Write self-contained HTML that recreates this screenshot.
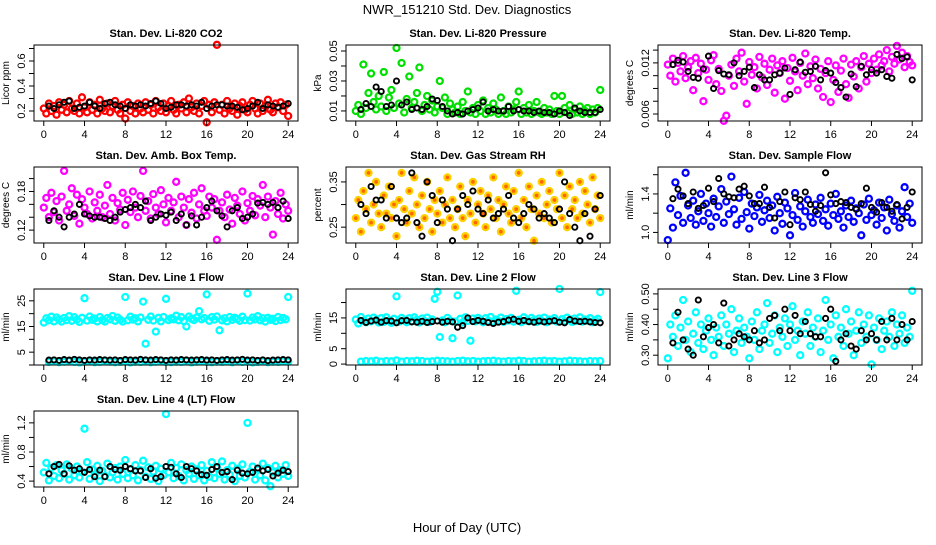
<!DOCTYPE html>
<html><head><meta charset="utf-8"><style>
html,body{margin:0;padding:0;background:#fff;}
svg text{font-family:"Liberation Sans",sans-serif;}
</style></head><body>
<svg id="chart" width="936" height="540" xmlns="http://www.w3.org/2000/svg">
<rect width="936" height="540" fill="#fff"/>
<text x="467" y="14" font-size="13" text-anchor="middle">NWR_151210  Std. Dev. Diagnostics</text>
<text x="467" y="532" font-size="13" text-anchor="middle">Hour of Day (UTC)</text>
</svg>
<script>
const hours=[0,0.25,0.5,0.75,1,1.25,1.5,1.75,2,2.25,2.5,2.75,3,3.25,3.5,3.75,4,4.25,4.5,4.75,5,5.25,5.5,5.75,6,6.25,6.5,6.75,7,7.25,7.5,7.75,8,8.25,8.5,8.75,9,9.25,9.5,9.75,10,10.25,10.5,10.75,11,11.25,11.5,11.75,12,12.25,12.5,12.75,13,13.25,13.5,13.75,14,14.25,14.5,14.75,15,15.25,15.5,15.75,16,16.25,16.5,16.75,17,17.25,17.5,17.75,18,18.25,18.5,18.75,19,19.25,19.5,19.75,20,20.25,20.5,20.75,21,21.25,21.5,21.75,22,22.25,22.5,22.75,23,23.25,23.5,23.75,24];
const blackHours=[0.5,1,1.5,2,2.5,3,3.5,4,4.5,5,5.5,6,6.5,7,7.5,8,8.5,9,9.5,10,10.5,11,11.5,12,12.5,13,13.5,14,14.5,15,15.5,16,16.5,17,17.5,18,18.5,19,19.5,20,20.5,21,21.5,22,22.5,23,23.5,24];
const xTicks=[0,4,8,12,16,20,24];

const co2Main=[0.22,0.18,0.26,0.20,0.24,0.17,0.27,0.21,0.25,0.19,0.28,0.22,0.20,0.26,0.18,0.31,0.23,0.19,0.27,0.21,0.25,0.18,0.29,0.22,0.20,0.26,0.19,0.24,0.28,0.21,0.18,0.25,0.14,0.27,0.20,0.24,0.18,0.26,0.22,0.19,0.27,0.21,0.25,0.18,0.28,0.23,0.20,0.26,0.19,0.24,0.28,0.21,0.18,0.25,0.22,0.27,0.19,0.30,0.23,0.20,0.26,0.18,0.24,0.28,0.11,0.25,0.19,0.27,0.73,0.21,0.25,0.18,0.28,0.22,0.20,0.26,0.17,0.24,0.27,0.21,0.19,0.25,0.28,0.22,0.18,0.26,0.20,0.24,0.29,0.21,0.19,0.26,0.23,0.27,0.20,0.25,0.16];
const co2Black=[0.24,0.22,0.25,0.27,0.28,0.22,0.23,0.24,0.27,0.24,0.22,0.26,0.27,0.25,0.24,0.22,0.25,0.24,0.25,0.24,0.26,0.28,0.26,0.22,0.23,0.25,0.25,0.24,0.25,0.24,0.27,0.22,0.24,0.25,0.25,0.24,0.24,0.23,0.21,0.22,0.24,0.27,0.22,0.25,0.24,0.23,0.24,0.26];

const presMain=[0.010,0.014,0.008,0.041,0.012,0.022,0.035,0.016,0.011,0.020,0.013,0.036,0.010,0.019,0.024,0.012,0.052,0.015,0.042,0.009,0.018,0.033,0.012,0.016,0.022,0.039,0.010,0.014,0.020,0.011,0.017,0.009,0.013,0.030,0.012,0.019,0.008,0.015,0.011,0.009,0.013,0.008,0.016,0.010,0.023,0.009,0.012,0.008,0.014,0.010,0.017,0.008,0.012,0.009,0.015,0.011,0.008,0.019,0.010,0.008,0.013,0.009,0.011,0.016,0.023,0.008,0.012,0.009,0.014,0.008,0.010,0.016,0.009,0.008,0.012,0.009,0.011,0.008,0.020,0.010,0.008,0.020,0.012,0.009,0.014,0.008,0.011,0.009,0.013,0.008,0.010,0.012,0.008,0.011,0.009,0.012,0.024];
const presBlack=[0.011,0.015,0.013,0.026,0.023,0.013,0.014,0.030,0.014,0.016,0.011,0.012,0.011,0.013,0.018,0.017,0.013,0.010,0.008,0.009,0.008,0.010,0.011,0.012,0.016,0.010,0.011,0.010,0.010,0.013,0.010,0.011,0.010,0.010,0.009,0.010,0.009,0.009,0.008,0.010,0.009,0.007,0.012,0.010,0.009,0.009,0.009,0.011];

const tempMain=[0.0118,0.0105,0.0125,0.0098,0.0120,0.0110,0.0128,0.0102,0.0115,0.0122,0.0088,0.0126,0.0108,0.0119,0.0075,0.0112,0.0100,0.0123,0.0129,0.0095,0.0113,0.0087,0.0052,0.0058,0.0105,0.0118,0.0093,0.0125,0.0110,0.0132,0.0098,0.0072,0.0121,0.0106,0.0115,0.0090,0.0127,0.0103,0.0119,0.0094,0.0112,0.0125,0.0085,0.0117,0.0108,0.0122,0.0078,0.0114,0.0099,0.0126,0.0110,0.0088,0.0120,0.0105,0.0131,0.0095,0.0116,0.0102,0.0124,0.0090,0.0113,0.0080,0.0108,0.0122,0.0074,0.0100,0.0117,0.0086,0.0111,0.0125,0.0095,0.0079,0.0118,0.0104,0.0122,0.0090,0.0115,0.0128,0.0098,0.0119,0.0108,0.0125,0.0112,0.0130,0.0117,0.0122,0.0135,0.0110,0.0127,0.0119,0.0140,0.0124,0.0132,0.0115,0.0128,0.0121,0.0117];
const tempBlack=[0.0118,0.0123,0.0121,0.0110,0.0103,0.0102,0.0113,0.0128,0.0090,0.0111,0.0107,0.0106,0.0120,0.0105,0.0110,0.0115,0.0091,0.0106,0.0100,0.0100,0.0106,0.0108,0.0114,0.0083,0.0112,0.0121,0.0109,0.0110,0.0116,0.0100,0.0111,0.0108,0.0097,0.0091,0.0080,0.0107,0.0092,0.0116,0.0106,0.0112,0.0108,0.0112,0.0104,0.0102,0.0130,0.0125,0.0127,0.0100];

const ambMain=[0.155,0.17,0.14,0.178,0.148,0.165,0.135,0.172,0.212,0.15,0.16,0.185,0.142,0.175,0.13,0.168,0.155,0.145,0.18,0.138,0.163,0.15,0.175,0.14,0.158,0.19,0.145,0.17,0.135,0.162,0.152,0.178,0.128,0.167,0.148,0.18,0.155,0.14,0.173,0.212,0.15,0.165,0.138,0.176,0.155,0.145,0.182,0.16,0.132,0.17,0.15,0.163,0.195,0.14,0.172,0.155,0.128,0.168,0.147,0.178,0.138,0.16,0.185,0.15,0.142,0.172,0.155,0.168,0.105,0.15,0.163,0.14,0.175,0.152,0.13,0.17,0.158,0.145,0.18,0.135,0.162,0.15,0.173,0.143,0.168,0.158,0.19,0.14,0.172,0.155,0.113,0.165,0.145,0.178,0.138,0.16,0.15];
const ambBlack=[0.135,0.15,0.14,0.125,0.14,0.145,0.16,0.145,0.142,0.14,0.14,0.138,0.135,0.14,0.148,0.152,0.155,0.16,0.155,0.165,0.135,0.14,0.145,0.143,0.148,0.135,0.145,0.128,0.142,0.128,0.14,0.155,0.165,0.15,0.142,0.125,0.15,0.155,0.138,0.14,0.145,0.162,0.163,0.16,0.163,0.155,0.165,0.138];

const rhMain=[0.27,0.31,0.24,0.33,0.29,0.37,0.26,0.30,0.35,0.28,0.25,0.32,0.28,0.34,0.27,0.30,0.23,0.31,0.37,0.29,0.26,0.33,0.28,0.36,0.30,0.25,0.32,0.27,0.35,0.29,0.24,0.31,0.28,0.33,0.26,0.30,0.36,0.27,0.31,0.25,0.29,0.34,0.27,0.23,0.31,0.28,0.35,0.26,0.30,0.33,0.28,0.25,0.32,0.29,0.36,0.27,0.31,0.24,0.30,0.34,0.28,0.26,0.33,0.29,0.37,0.27,0.31,0.25,0.34,0.29,0.22,0.32,0.28,0.35,0.27,0.30,0.33,0.26,0.31,0.29,0.37,0.27,0.32,0.25,0.34,0.29,0.31,0.27,0.35,0.28,0.33,0.30,0.26,0.36,0.29,0.32,0.27];
const rhBlack=[0.30,0.28,0.34,0.31,0.31,0.27,0.34,0.27,0.26,0.27,0.37,0.26,0.23,0.35,0.32,0.26,0.31,0.29,0.22,0.29,0.32,0.30,0.33,0.29,0.28,0.31,0.27,0.28,0.29,0.32,0.27,0.26,0.28,0.30,0.29,0.27,0.28,0.27,0.26,0.29,0.35,0.28,0.25,0.22,0.28,0.23,0.29,0.32];

const flowMain=[0.92,1.25,1.05,1.52,1.18,1.38,1.10,1.62,1.28,1.15,1.33,1.08,1.22,1.40,1.12,1.30,1.20,1.06,1.35,1.16,1.27,1.45,1.10,1.32,1.19,1.58,1.24,1.08,1.36,1.14,1.42,1.21,1.04,1.30,1.17,1.26,1.39,1.11,1.23,1.33,1.15,1.28,1.02,1.37,1.20,1.09,1.31,1.25,0.97,1.18,1.41,1.13,1.27,1.06,1.22,1.34,1.16,1.10,1.29,1.19,1.36,1.12,1.24,1.07,1.30,1.18,1.40,1.14,1.22,1.05,1.28,1.16,1.33,1.11,1.25,1.20,0.97,1.29,1.13,1.35,1.18,1.23,1.08,1.31,1.15,1.26,1.02,1.34,1.19,1.12,1.28,1.05,1.22,1.47,1.16,1.30,1.10];
const flowBlack=[1.35,1.45,1.38,1.30,1.42,1.25,1.28,1.46,1.32,1.56,1.40,1.37,1.36,1.45,1.48,1.38,1.30,1.30,1.47,1.26,1.15,1.32,1.42,1.08,1.36,1.34,1.42,1.29,1.22,1.28,1.62,1.39,1.30,1.32,1.31,1.26,1.24,1.30,1.46,1.26,1.21,1.31,1.26,1.22,1.29,1.14,1.26,1.42];

const l1Main=[16.5,18.2,17.4,18.8,17.0,18.5,17.8,16.9,18.3,17.5,19.0,17.2,18.6,17.7,16.8,18.4,26.0,17.3,18.9,17.6,18.1,17.0,18.7,17.5,16.9,18.3,17.8,19.1,17.2,18.5,17.6,16.9,26.5,17.4,18.8,17.7,18.2,17.0,18.5,24.7,8.3,17.6,18.9,17.3,13.0,18.4,17.0,18.7,25.8,17.5,18.2,17.8,19.2,17.4,18.6,17.1,15.0,18.9,18.0,17.5,18.5,21.0,17.8,18.3,27.5,17.2,18.6,17.7,18.9,13.5,17.4,18.2,17.0,18.7,17.6,18.4,17.9,17.2,18.8,17.5,27.8,17.3,18.5,17.8,19.0,17.4,18.2,16.9,18.4,17.6,18.0,17.1,18.7,17.5,18.3,17.8,26.5];
const l1Low=[1.2,1.4,1.1,1.3,1.5,1.2,1.0,1.3,1.4,1.1,1.2,1.5,1.3,1.1,1.2,1.4,1.0,1.3,1.2,1.5,1.1,1.3,1.4,1.2,1.1,1.3,1.2,1.5,1.0,1.3,1.4,1.2,1.1,1.3,1.2,1.4,1.1,1.5,1.2,1.3,1.0,1.2,1.4,1.1,1.3,1.2,1.4,1.3];
const l1Black=[1.9,2.0,1.8,2.1,1.9,2.2,2.0,1.8,2.0,1.9,2.1,2.0,1.9,2.0,1.8,2.1,2.0,1.9,2.2,2.0,1.9,2.1,2.0,1.8,2.0,1.9,2.1,2.0,1.9,2.0,2.1,1.9,2.0,1.8,2.0,2.1,1.9,2.0,2.2,1.9,2.0,1.8,2.0,1.7,1.9,2.0,2.1,2.0];

const l2Main=[14.5,13.2,15.3,14.0,13.6,14.8,13.9,15.1,14.3,13.5,14.9,13.7,15.2,14.1,13.4,14.7,22.0,13.8,15.0,14.2,13.6,14.9,13.9,15.2,14.4,13.5,14.8,14.0,15.1,13.7,14.5,21.2,23.5,8.8,14.2,13.6,15.0,14.1,8.4,13.8,22.3,14.7,13.5,15.2,14.0,7.6,14.8,13.9,15.0,14.3,13.6,14.9,14.1,15.3,13.8,14.5,14.0,15.1,13.7,14.6,14.2,15.0,13.8,23.8,14.4,13.6,15.2,14.1,13.9,15.0,14.3,13.7,14.8,14.0,15.1,13.6,14.5,14.2,14.9,13.8,24.4,14.6,13.9,15.1,14.2,13.7,14.8,14.0,15.2,13.8,14.5,14.1,14.9,13.6,14.3,14.7,23.4];
const l2Low=[0.8,1.0,0.9,1.1,0.8,1.0,0.9,1.2,0.8,1.0,0.9,1.1,1.0,0.8,0.9,1.1,1.0,0.9,0.8,1.0,1.1,0.9,1.0,0.8,0.9,1.0,1.1,0.9,0.8,1.0,0.9,1.1,1.0,0.8,0.9,1.0,1.1,0.9,1.0,0.8,0.9,1.1,1.0,0.9,0.8,1.0,0.9,1.0];
const l2Black=[14.2,13.5,14.0,14.3,13.6,14.1,14.0,13.4,14.1,14.2,13.7,13.6,13.9,13.5,13.8,14.0,13.6,13.9,13.7,12.0,12.5,15.0,13.8,14.2,13.9,13.5,13.2,13.6,13.8,14.3,14.6,13.9,14.2,13.8,13.6,14.0,13.7,13.9,14.1,13.6,13.4,14.5,14.0,13.8,13.9,13.7,13.5,13.4];

const l3Main=[0.29,0.40,0.36,0.43,0.33,0.39,0.48,0.35,0.41,0.31,0.37,0.44,0.34,0.40,0.32,0.38,0.42,0.35,0.30,0.39,0.36,0.43,0.33,0.40,0.37,0.45,0.31,0.38,0.42,0.34,0.39,0.36,0.29,0.41,0.35,0.44,0.32,0.38,0.40,0.47,0.34,0.37,0.43,0.31,0.39,0.36,0.42,0.33,0.40,0.46,0.35,0.38,0.30,0.41,0.37,0.44,0.33,0.39,0.36,0.42,0.31,0.38,0.48,0.35,0.40,0.29,0.43,0.36,0.39,0.33,0.45,0.37,0.41,0.30,0.38,0.44,0.34,0.40,0.36,0.43,0.27,0.39,0.35,0.42,0.32,0.38,0.41,0.36,0.44,0.33,0.40,0.37,0.43,0.34,0.39,0.36,0.51];
const l3Black=[0.34,0.44,0.35,0.32,0.30,0.48,0.36,0.39,0.40,0.34,0.47,0.33,0.35,0.37,0.36,0.35,0.38,0.34,0.35,0.42,0.43,0.38,0.45,0.38,0.43,0.37,0.41,0.37,0.36,0.36,0.42,0.45,0.28,0.35,0.37,0.33,0.32,0.38,0.35,0.37,0.35,0.41,0.35,0.42,0.35,0.40,0.35,0.41];

const l4Main=[0.52,0.65,0.41,0.58,0.47,0.62,0.44,0.55,0.50,0.63,0.42,0.57,0.48,0.60,0.45,0.53,1.12,0.66,0.43,0.56,0.49,0.61,0.40,0.54,0.47,0.64,0.45,0.52,0.58,0.42,0.60,0.50,0.69,0.44,0.56,0.48,0.62,0.41,0.55,0.68,0.46,0.59,0.43,0.53,0.61,0.40,0.57,0.48,1.32,0.52,0.65,0.44,0.58,0.47,0.63,0.41,0.55,0.50,0.60,0.43,0.56,0.48,0.62,0.41,0.54,0.46,0.66,0.44,0.58,0.50,0.67,0.42,0.55,0.49,0.61,0.40,0.57,0.47,0.63,0.45,1.20,0.53,0.60,0.42,0.56,0.48,0.64,0.41,0.58,0.33,0.52,0.61,0.45,0.55,0.50,0.62,0.47];
const l4Black=[0.50,0.60,0.63,0.50,0.61,0.55,0.57,0.52,0.56,0.46,0.55,0.46,0.60,0.56,0.55,0.60,0.57,0.54,0.54,0.45,0.57,0.44,0.46,0.60,0.59,0.50,0.45,0.60,0.57,0.54,0.49,0.48,0.56,0.60,0.52,0.53,0.42,0.55,0.51,0.50,0.52,0.58,0.54,0.56,0.47,0.51,0.55,0.53];

const NS='http://www.w3.org/2000/svg';
const svg=document.getElementById('chart');
function mk(tag,attrs,parent){const e=document.createElementNS(NS,tag);for(const k in attrs)e.setAttribute(k,attrs[k]);(parent||svg).appendChild(e);return e;}

const panels=[
 {id:'co2',title:'Stan. Dev. Li-820 CO2',ylab:'Licor ppm',col:0,row:0,yMin:0.12,yMax:0.728,ticks:[0.2,0.3,0.4,0.5,0.6,0.7],labels:['0.2','','0.4','','0.6',''],series:[{x:hours,y:co2Main,c:'#ff0000'},{x:blackHours,y:co2Black,c:'#000'}]},
 {id:'pressure',title:'Stan. Dev. Li-820 Pressure',ylab:'kPa',col:1,row:0,yMin:0.0033,yMax:0.054,ticks:[0.01,0.02,0.03,0.04,0.05],labels:['0.01','','0.03','','0.05'],series:[{x:hours,y:presMain,c:'#00e000'},{x:blackHours,y:presBlack,c:'#000'}]},
 {id:'temp',title:'Stan. Dev. Li-820 Temp.',ylab:'degrees C',col:2,row:0,yMin:0.00518,yMax:0.0141,ticks:[0.006,0.0075,0.009,0.0105,0.012,0.0135],labels:['0.006','','','','0.012',''],series:[{x:hours,y:tempMain,c:'#ff00ff'},{x:blackHours,y:tempBlack,c:'#000'}]},
 {id:'ambbox',title:'Stan. Dev. Amb. Box Temp.',ylab:'degrees C',col:0,row:1,yMin:0.10,yMax:0.218,ticks:[0.12,0.14,0.16,0.18,0.20],labels:['0.12','','','0.18',''],series:[{x:hours,y:ambMain,c:'#ff00ff'},{x:blackHours,y:ambBlack,c:'#000'}]},
 {id:'rh',title:'Stan. Dev. Gas Stream RH',ylab:'percent',col:1,row:1,yMin:0.215,yMax:0.383,ticks:[0.25,0.30,0.35],labels:['0.25','','0.35'],series:[{x:hours,y:rhMain,c:'#ffd000',fill:'#ff6600'},{x:blackHours,y:rhBlack,c:'#000'}]},
 {id:'sampleflow',title:'Stan. Dev. Sample Flow',ylab:'ml/min',col:2,row:1,yMin:0.89,yMax:1.68,ticks:[1.0,1.2,1.4,1.6],labels:['1.0','','1.4',''],series:[{x:hours,y:flowMain,c:'#0000ff'},{x:blackHours,y:flowBlack,c:'#000'}]},
 {id:'line1',title:'Stan. Dev. Line 1 Flow',ylab:'ml/min',col:0,row:2,yMin:0,yMax:29.6,ticks:[0,5,10,15,20,25],labels:['','5','','15','','25'],series:[{x:hours,y:l1Main,c:'#00ffff'},{x:blackHours,y:l1Low,c:'#00ffff'},{x:blackHours,y:l1Black,c:'#000'}]},
 {id:'line2',title:'Stan. Dev. Line 2 Flow',ylab:'ml/min',col:1,row:2,yMin:-0.3,yMax:24.4,ticks:[0,5,10,15,20],labels:['0','5','','15',''],series:[{x:hours,y:l2Main,c:'#00ffff'},{x:blackHours,y:l2Low,c:'#00ffff'},{x:blackHours,y:l2Black,c:'#000'}]},
 {id:'line3',title:'Stan. Dev. Line 3 Flow',ylab:'ml/min',col:2,row:2,yMin:0.268,yMax:0.516,ticks:[0.30,0.35,0.40,0.45,0.50],labels:['0.30','','0.40','','0.50'],series:[{x:hours,y:l3Main,c:'#00ffff'},{x:blackHours,y:l3Black,c:'#000'}]},
 {id:'line4',title:'Stan. Dev. Line 4 (LT) Flow',ylab:'ml/min',col:0,row:3,yMin:0.319,yMax:1.363,ticks:[0.4,0.6,0.8,1.0,1.2],labels:['0.4','','0.8','','1.2'],series:[{x:hours,y:l4Main,c:'#00ffff'},{x:blackHours,y:l4Black,c:'#000'}]}
];
const colLeft=[34,346,658], rowTop=[45,167,289,411], W=264, H=76;

panels.forEach(p=>{
 const L=colLeft[p.col], T=rowTop[p.row];
 const xs=v=>L+(v+0.96)/25.92*W;
 const ys=v=>T+(p.yMax-v)/(p.yMax-p.yMin)*H;
 const g=mk('g',{});
 
 
 const t=mk('text',{x:L+W/2,y:T-8,'font-size':11,'font-weight':'bold','text-anchor':'middle'},g);
 t.textContent=p.title;
 
 
 const yl=mk('text',{x:0,y:0,'font-size':10,'text-anchor':'middle',transform:`translate(${L-25},${T+H/2}) rotate(-90)`},g);
 yl.textContent=p.ylab;
 
 
 const pts=mk('g',{},g);
 
 
 p.series.forEach(s=>{
  const isBlack=s.c==='#000';
  for(let i=0;i<s.y.length;i++){
   const c=mk('circle',{cx:xs(s.x[i]).toFixed(1),cy:ys(s.y[i]).toFixed(1),r:isBlack?2.6:3,fill:s.fill||'none',stroke:s.c,'stroke-width':isBlack?1.9:2.3},pts);
   
   
  }
 });
 const box=mk('rect',{x:L,y:T,width:W,height:H,fill:'none',stroke:'#000','stroke-width':1},g);
 
 
 xTicks.forEach(v=>{
  const x=xs(v);
  mk('line',{x1:x,x2:x,y1:T+H,y2:T+H+5,stroke:'#000'},g);
  const tl=mk('text',{x:x,y:T+H+17,'font-size':11,'text-anchor':'middle'},g);
  tl.textContent=String(v);
  
  
 });
 p.ticks.forEach((v,i)=>{
  const y=ys(v);
  mk('line',{x1:L-5,x2:L,y1:y,y2:y,stroke:'#000'},g);
  if(p.labels[i]){
   const tl=mk('text',{x:0,y:0,'font-size':11,'text-anchor':'middle',transform:`translate(${L-9},${y}) rotate(-90)`},g);
   tl.textContent=p.labels[i];
   
   
  }
 });
});
</script>
</body></html>
